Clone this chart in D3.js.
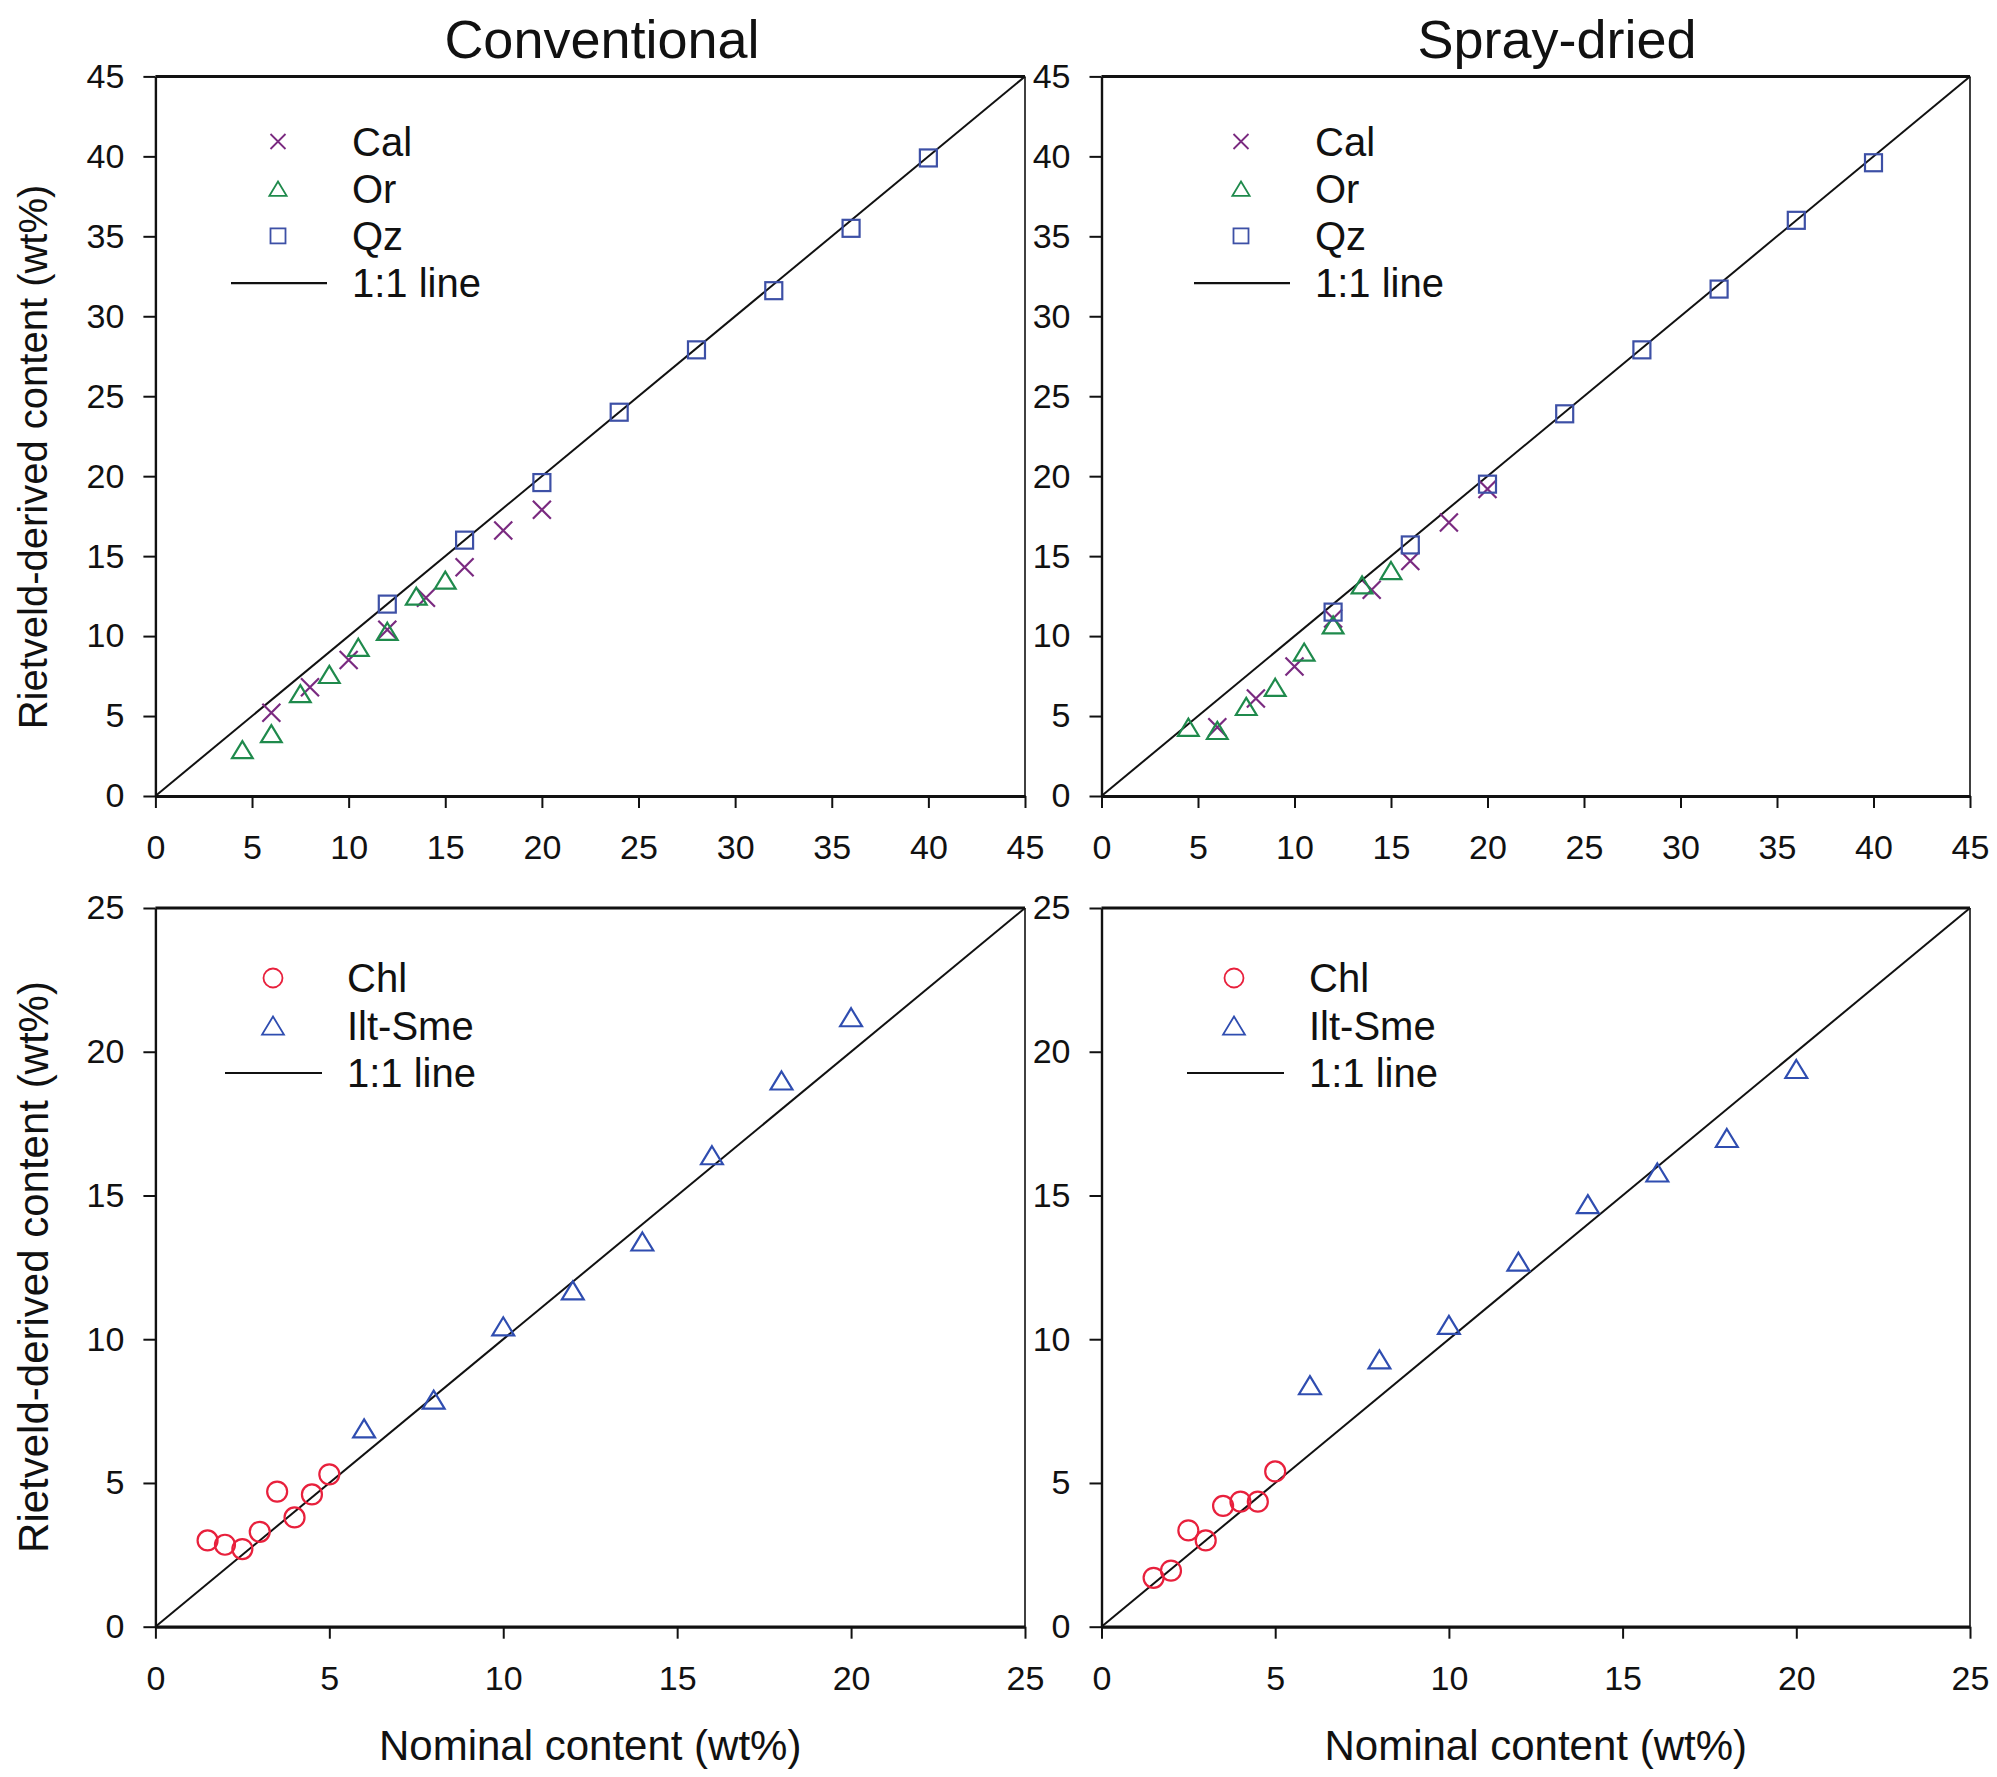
<!DOCTYPE html>
<html><head><meta charset="utf-8">
<script src="https://cdn.jsdelivr.net/npm/d3@7"></script>
<style>body{margin:0;background:#fff} text{font-family:"Liberation Sans",Arial,Helvetica,sans-serif}</style>
</head><body><svg id="c" width="1997" height="1777"></svg>
<script>
// ---------- data ----------
const panelTitles = ["Conventional", "Spray-dried"];
const ticksTop = [0, 5, 10, 15, 20, 25, 30, 35, 40, 45];
const ticksBottom = [0, 5, 10, 15, 20, 25];
const yLabel = "Rietveld-derived content (wt%)";
const xLabel = "Nominal content (wt%)";

const calNominal = [6, 8, 10, 12, 14, 16, 18, 20];
const calConv    = [5.2, 6.8, 8.5, 10.4, 12.4, 14.3, 16.6, 17.9];
const calSpray   = [4.3, 6.1, 8.1, 11.1, 12.9, 14.7, 17.1, 19.2];

const orNominal = [4.5, 6, 7.5, 9, 10.5, 12, 13.5, 15];
const orConv    = [2.9, 3.9, 6.4, 7.6, 9.3, 10.3, 12.5, 13.5];
const orSpray   = [4.3, 4.1, 5.6, 6.8, 9.0, 10.7, 13.2, 14.1];

const qzNominal = [12, 16, 20, 24, 28, 32, 36, 40];
const qzConv    = [12.0, 16.0, 19.6, 24.0, 27.9, 31.6, 35.5, 39.9];
const qzSpray   = [11.5, 15.7, 19.5, 23.9, 27.9, 31.7, 36.0, 39.6];

const chlNominal = [1.5, 2, 2.5, 3, 3.5, 4, 4.5, 5];
const chlConv    = [3.0, 2.85, 2.7, 3.3, 4.7, 3.8, 4.6, 5.3];
const chlSpray   = [1.7, 1.95, 3.35, 3.0, 4.2, 4.35, 4.35, 5.4];

const iltNominal = [6, 8, 10, 12, 14, 16, 18, 20];
const iltConv    = [6.9, 7.9, 10.45, 11.7, 13.4, 16.4, 19.0, 21.2];
const iltSpray   = [8.4, 9.3, 10.5, 12.7, 14.7, 15.8, 17.0, 19.4];

const topSeriesNames = ["Cal", "Or", "Qz"];
const bottomSeriesNames = ["Chl", "Ilt-Sme"];
const lineName = "1:1 line";

// ---------- styles ----------
const COL = { Cal: "#7a2a80", Or: "#1f8a4c", Qz: "#3d50a6", Chl: "#e8203c", "Ilt-Sme": "#2f4db0" };
const SHAPE = { Cal: "cross", Or: "triangle", Qz: "square", Chl: "circle", "Ilt-Sme": "triangle" };
const FONT = '"Liberation Sans",Arial,Helvetica,sans-serif';

const svg = d3.select("#c");

function marker(g, shape, cx, cy, color, s, sw) {
  if (shape === "cross") {
    const h = s / 2;
    g.append("path").attr("d", `M${cx-h},${cy-h}L${cx+h},${cy+h}M${cx-h},${cy+h}L${cx+h},${cy-h}`)
      .attr("stroke", color).attr("stroke-width", sw).attr("fill", "none");
  } else if (shape === "square") {
    g.append("rect").attr("x", cx - s/2).attr("y", cy - s/2).attr("width", s).attr("height", s)
      .attr("stroke", color).attr("stroke-width", sw).attr("fill", "none");
  } else if (shape === "triangle") {
    const w = s * 1.15, h = s * 0.95;
    g.append("path").attr("d", `M${cx},${cy-h/2}L${cx+w/2},${cy+h/2}L${cx-w/2},${cy+h/2}Z`)
      .attr("stroke", color).attr("stroke-width", sw).attr("fill", "none").attr("stroke-linejoin", "miter");
  } else if (shape === "circle") {
    g.append("circle").attr("cx", cx).attr("cy", cy).attr("r", s/2)
      .attr("stroke", color).attr("stroke-width", sw).attr("fill", "none");
  }
}

function panel(cfg) {
  const x = d3.scaleLinear().domain([0, cfg.max]).range([cfg.x0, cfg.x1]);
  const y = d3.scaleLinear().domain([0, cfg.max]).range([cfg.y0, cfg.y1]);
  const g = svg.append("g");

  // top & right spines
  g.append("line").attr("x1", cfg.x0).attr("x2", cfg.x1).attr("y1", cfg.y1).attr("y2", cfg.y1)
    .attr("stroke", "#111").attr("stroke-width", 3);
  g.append("line").attr("x1", cfg.x1).attr("x2", cfg.x1).attr("y1", cfg.y1).attr("y2", cfg.y0)
    .attr("stroke", "#111").attr("stroke-width", 1.6);

  // axes
  const ax = g.append("g").attr("transform", `translate(0,${cfg.y0})`)
    .call(d3.axisBottom(x).tickValues(cfg.ticks).tickSize(12).tickSizeOuter(0).tickPadding(cfg.xPad).tickFormat(d3.format("d")));
  const ay = g.append("g").attr("transform", `translate(${cfg.x0},0)`)
    .call(d3.axisLeft(y).tickValues(cfg.ticks).tickSize(12).tickSizeOuter(0).tickPadding(19).tickFormat(d3.format("d")));
  [ax, ay].forEach(a => {
    a.selectAll("text").attr("font-size", 34).attr("font-family", FONT).attr("fill", "#111");
    a.selectAll(".tick line").attr("stroke", "#111").attr("stroke-width", 2);
  });
  ax.select(".domain").attr("stroke", "#111").attr("stroke-width", 3.2);
  ay.select(".domain").attr("stroke", "#111").attr("stroke-width", 2.4);

  // 1:1 line
  g.append("line").attr("x1", x(0)).attr("y1", y(0)).attr("x2", x(cfg.max)).attr("y2", y(cfg.max))
    .attr("stroke", "#111").attr("stroke-width", 2);

  // series
  cfg.series.forEach(s => {
    s.nominal.forEach((nv, i) => {
      marker(g, SHAPE[s.name], x(nv), y(s.values[i]), COL[s.name], s.size, 2.2);
    });
  });

  // legend
  const L = cfg.legend;
  cfg.series.forEach((s, i) => {
    const my = L.y + i * L.dy;
    marker(g, SHAPE[s.name], L.mx, my, COL[s.name], L.msize, 1.8);
    g.append("text").attr("x", L.tx).attr("y", my + 14).attr("font-size", 40).attr("font-family", FONT)
      .attr("fill", "#111").text(s.name);
  });
  const ly = L.y + cfg.series.length * L.dy;
  g.append("line").attr("x1", L.lx0).attr("x2", L.lx1).attr("y1", ly).attr("y2", ly)
    .attr("stroke", "#111").attr("stroke-width", 2.2);
  g.append("text").attr("x", L.tx).attr("y", ly + 14).attr("font-size", 40).attr("font-family", FONT)
    .attr("fill", "#111").text(lineName);

  // title
  if (cfg.title) {
    g.append("text").attr("x", cfg.titleX).attr("y", 58).attr("text-anchor", "middle")
      .attr("font-size", 54).attr("font-family", FONT).attr("fill", "#111").text(cfg.title);
  }
  // y label
  if (cfg.ylab) {
    g.append("text").attr("transform", `translate(33,${cfg.ylabY}) rotate(-90)`).attr("text-anchor", "middle")
      .attr("dy", "0.36em").attr("font-size", cfg.ylabSize).attr("font-family", FONT).attr("fill", "#111").text(yLabel);
  }
  // x label
  if (cfg.xlab) {
    g.append("text").attr("x", (cfg.x0 + cfg.x1) / 2).attr("y", 1760).attr("text-anchor", "middle")
      .attr("font-size", 42).attr("font-family", FONT).attr("fill", "#111").text(xLabel);
  }
}

const LX0 = 155.4, LX1 = 1025, RX0 = 1101.5, RX1 = 1970;

panel({ max: 45, ticks: ticksTop, x0: LX0, x1: LX1, y0: 796, y1: 76.4, xPad: 26.5, title: panelTitles[0], titleX: 602,
  ylab: true, ylabSize: 40, ylabY: 457,
  series: [
    { name: topSeriesNames[0], nominal: calNominal, values: calConv, size: 18 },
    { name: topSeriesNames[1], nominal: orNominal, values: orConv, size: 18 },
    { name: topSeriesNames[2], nominal: qzNominal, values: qzConv, size: 17 }],
  legend: { mx: 278, y: 141.5, dy: 47.2, msize: 15, tx: 352, lx0: 231, lx1: 327 } });

panel({ max: 45, ticks: ticksTop, x0: RX0, x1: RX1, y0: 796, y1: 76.4, xPad: 26.5, title: panelTitles[1], titleX: 1557,
  series: [
    { name: topSeriesNames[0], nominal: calNominal, values: calSpray, size: 18 },
    { name: topSeriesNames[1], nominal: orNominal, values: orSpray, size: 18 },
    { name: topSeriesNames[2], nominal: qzNominal, values: qzSpray, size: 17 }],
  legend: { mx: 1241, y: 141.5, dy: 47.2, msize: 15, tx: 1315, lx0: 1194, lx1: 1290 } });

panel({ max: 25, ticks: ticksBottom, x0: LX0, x1: LX1, y0: 1626.7, y1: 908, xPad: 27.5, ylab: true, ylabSize: 42, ylabY: 1267, xlab: true,
  series: [
    { name: bottomSeriesNames[0], nominal: chlNominal, values: chlConv, size: 20 },
    { name: bottomSeriesNames[1], nominal: iltNominal, values: iltConv, size: 19 }],
  legend: { mx: 273, y: 978, dy: 47.5, msize: 19, tx: 347, lx0: 225, lx1: 322 } });

panel({ max: 25, ticks: ticksBottom, x0: RX0, x1: RX1, y0: 1626.7, y1: 908, xPad: 27.5, xlab: true,
  series: [
    { name: bottomSeriesNames[0], nominal: chlNominal, values: chlSpray, size: 20 },
    { name: bottomSeriesNames[1], nominal: iltNominal, values: iltSpray, size: 19 }],
  legend: { mx: 1234, y: 978, dy: 47.5, msize: 19, tx: 1309, lx0: 1187, lx1: 1284 } });
</script></body></html>
